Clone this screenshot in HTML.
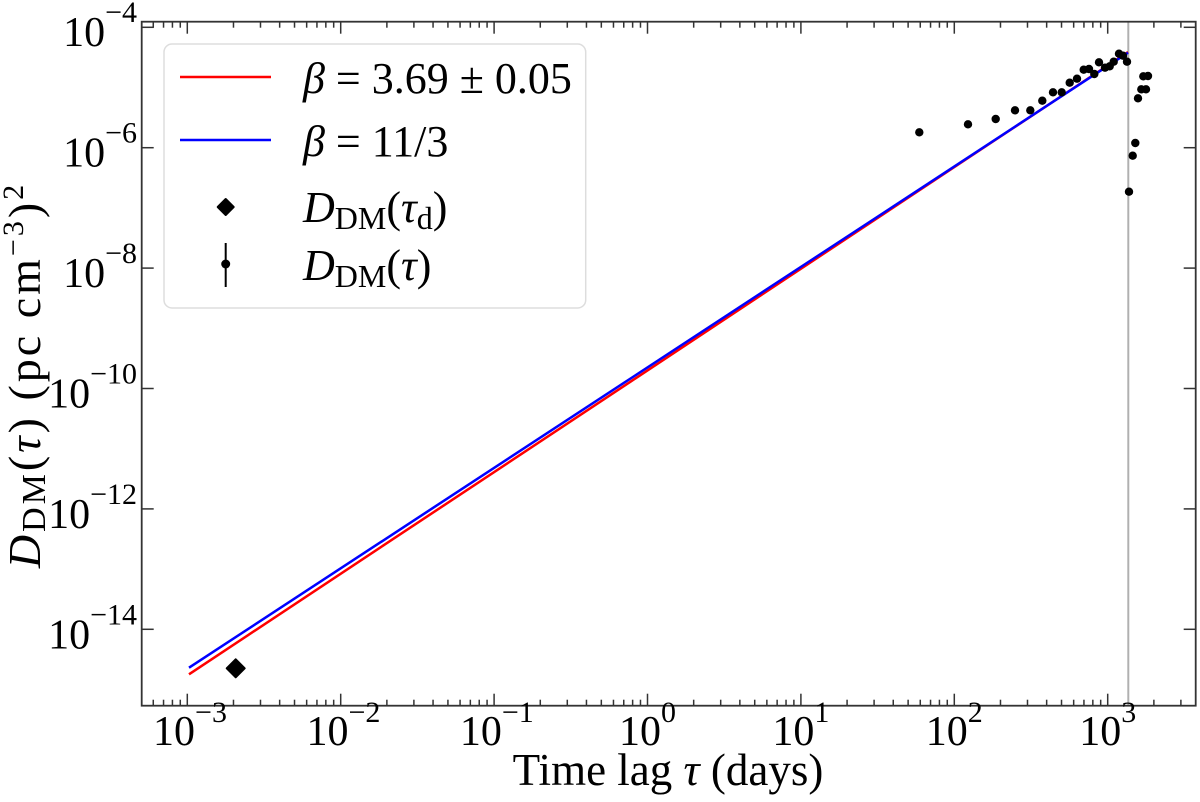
<!DOCTYPE html>
<html><head><meta charset="utf-8"><style>
html,body{margin:0;padding:0;background:#fff}
svg{display:block;font-family:"Liberation Serif","DejaVu Serif",serif}
</style></head><body>
<svg id="s" width="1200" height="802" viewBox="0 0 1200 802" xmlns="http://www.w3.org/2000/svg">
<rect width="1200" height="802" fill="#fff"/>
<g id="ticks" stroke="#333" stroke-width="1.5"></g>
<line x1="1128.3" y1="21.7" x2="1128.3" y2="705.7" stroke="#b0b0b0" stroke-width="2"/>
<line x1="189" y1="674.3" x2="1128" y2="52" stroke="#ff0000" stroke-width="2.5"/>
<line x1="189" y1="667.7" x2="1128" y2="52.7" stroke="#0000ff" stroke-width="2.5"/>
<g id="pts" fill="#000"></g>
<path d="M235.7 659.3 L244.7 668.3 L235.7 677.3 L226.7 668.3 Z" fill="#000" stroke="#000" stroke-width="2" stroke-linejoin="round"/>
<rect x="141.7" y="21.7" width="1054" height="684" fill="none" stroke="#333" stroke-width="1.8"/>
<!-- legend -->
<rect x="164" y="44" width="421.7" height="264" rx="8" fill="#fff" fill-opacity="0.8" stroke="#ddd" stroke-width="1.5"/>
<line x1="180" y1="77" x2="271" y2="77" stroke="#ff0000" stroke-width="2.5"/>
<line x1="180" y1="140" x2="271" y2="140" stroke="#0000ff" stroke-width="2.5"/>
<path d="M225.7 199 L233.7 207 L225.7 215 L217.7 207 Z" fill="#000" stroke="#000" stroke-width="2" stroke-linejoin="round"/>
<line x1="225.7" y1="243" x2="225.7" y2="287" stroke="#000" stroke-width="2"/>
<circle cx="225.7" cy="264" r="4.5" fill="#000"/>
<g font-size="44" fill="#000">
<text x="303" y="93"><tspan font-style="italic">β</tspan> = 3.69 ± 0.05</text>
<text x="303" y="156"><tspan font-style="italic">β</tspan> = 11/3</text>
<text x="303" y="222"><tspan font-style="italic">D</tspan><tspan font-size="32" dy="7">DM</tspan><tspan dy="-7">(</tspan><tspan font-style="italic">τ</tspan><tspan font-size="32" dy="7">d</tspan><tspan dy="-7">)</tspan></text>
<text x="303" y="280"><tspan font-style="italic">D</tspan><tspan font-size="32" dy="7">DM</tspan><tspan dy="-7">(</tspan><tspan font-style="italic">τ</tspan>)</text>
</g>
<!-- x tick labels -->
<g font-size="42" fill="#000" text-anchor="middle">
<text x="190" y="745">10<tspan font-size="30" dy="-23">−3</tspan></text>
<text x="343.4" y="745">10<tspan font-size="30" dy="-23">−2</tspan></text>
<text x="496.8" y="745">10<tspan font-size="30" dy="-23">−1</tspan></text>
<text x="647.5" y="745">10<tspan font-size="30" dy="-23">0</tspan></text>
<text x="800.9" y="745">10<tspan font-size="30" dy="-23">1</tspan></text>
<text x="954.3" y="745">10<tspan font-size="30" dy="-23">2</tspan></text>
<text x="1107.7" y="745">10<tspan font-size="30" dy="-23">3</tspan></text>
</g>
<!-- y tick labels -->
<g font-size="42" fill="#000" text-anchor="end">
<text x="137" y="46">10<tspan font-size="30" dy="-24">−4</tspan></text>
<text x="137" y="166.7">10<tspan font-size="30" dy="-24">−6</tspan></text>
<text x="137" y="287.1">10<tspan font-size="30" dy="-24">−8</tspan></text>
<text x="137" y="407.5">10<tspan font-size="30" dy="-24">−10</tspan></text>
<text x="137" y="527.9">10<tspan font-size="30" dy="-24">−12</tspan></text>
<text x="137" y="648.3">10<tspan font-size="30" dy="-24">−14</tspan></text>
</g>
<text x="668" y="785" font-size="45" text-anchor="middle">Time lag <tspan font-style="italic">τ</tspan> (days)</text>
<text transform="translate(40,375) rotate(-90)" font-size="46" letter-spacing="3" text-anchor="middle"><tspan font-style="italic">D</tspan><tspan font-size="34" dy="5">DM</tspan><tspan dy="-5">(</tspan><tspan font-style="italic">τ</tspan>) (pc cm<tspan font-size="30" dy="-17">−3</tspan><tspan dy="17">)</tspan><tspan font-size="30" dy="-17">2</tspan></text>
</svg>
<script>
var NS="http://www.w3.org/2000/svg";
function X(l){return 187.3+153.4*(l+3);}
function Y(l){return 27.3+60.2*(-4-l);}
var g=document.getElementById("ticks");
function ln(x1,y1,x2,y2){var e=document.createElementNS(NS,"line");e.setAttribute("x1",x1);e.setAttribute("y1",y1);e.setAttribute("x2",x2);e.setAttribute("y2",y2);g.appendChild(e);}
for(var d=-4;d<=3;d++){for(var k=1;k<=9;k++){var x=X(d+Math.log10(k));if(x<142||x>1195)continue;var L=(k==1)?12:6;ln(x,705.7,x,705.7-L);ln(x,21.7,x,21.7+L);}}
for(var d=-4;d>=-14;d-=2){var y=Y(d);ln(141.7,y,153.7,y);ln(1195.7,y,1183.7,y);}
var P=[[919.3,132.3],[968,124.3],[995.7,119],[1015,110.3],[1030.3,110.3],[1042.3,100.7],[1053,92.3],[1061.7,92.3],[1069.7,82.7],[1077,78.7],[1083.7,69.7],[1089,69],[1094.3,74],[1099,62.3],[1105,67.7],[1109.7,66.3],[1113.7,61.7],[1119,53.7],[1123,55.7],[1127,61.7],[1129,191.7],[1132.7,155.7],[1135.3,143],[1138,98.3],[1141.3,89.3],[1146,89.3],[1143.3,76.3],[1148,76]];
var pg=document.getElementById("pts");
P.forEach(function(p){var c=document.createElementNS(NS,"circle");c.setAttribute("cx",p[0]);c.setAttribute("cy",p[1]);c.setAttribute("r",4.2);pg.appendChild(c);});
</script>
</body></html>
